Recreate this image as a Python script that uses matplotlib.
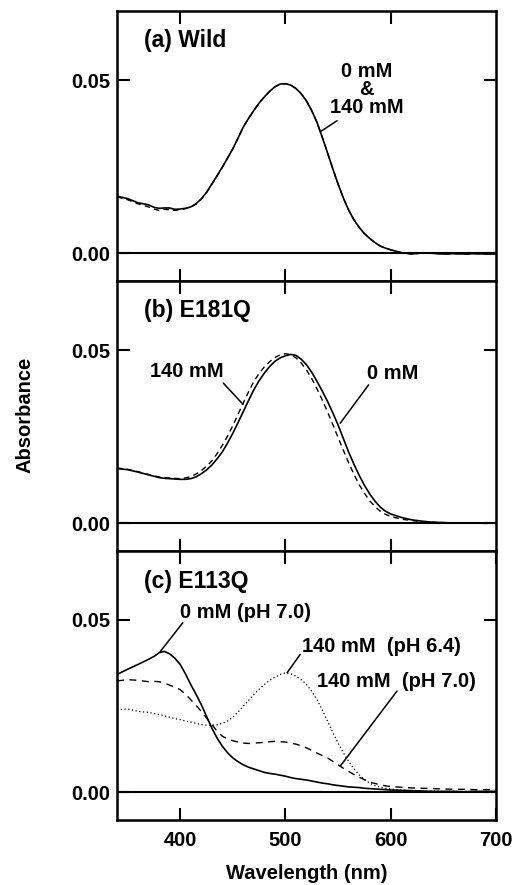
import numpy as np
import matplotlib
matplotlib.use('Agg')
import matplotlib.pyplot as plt

plt.rcParams['font.family'] = ['Liberation Sans', 'DejaVu Sans']
plt.rcParams['font.weight'] = 'bold'

# wavelength grid (nm): coarse in the flat ends, 5 nm through the bands
wl = np.array([340, 350, 360] + list(range(370, 601, 5)) + list(range(610, 701, 10)))

# (a) Wild
wild_0mM = [0.0165, 0.0158, 0.0146,
            0.0140, 0.0133, 0.0130, 0.0131, 0.0131, 0.0127, 0.0128, 0.0130, 0.0134, 0.0143, 0.0157,
            0.0176, 0.0200, 0.0224, 0.0249, 0.0275, 0.0302, 0.0333, 0.0365, 0.0390, 0.0413,
            0.0434, 0.0452, 0.0468, 0.0481, 0.0489, 0.0490, 0.0486, 0.0476, 0.0461, 0.0440,
            0.0412, 0.0378, 0.0335, 0.0290, 0.0244, 0.0200, 0.0160, 0.0125, 0.0097, 0.0075,
            0.0057, 0.0043, 0.0031, 0.0021, 0.0015, 0.0010,
            0.0002, -0.0002, 0.0001, 0.0000, -0.0002, -0.0001, -0.0002, -0.0001, -0.0002, -0.0002]
wild_140mM = [0.0163, 0.0155, 0.0143,
              0.0134, 0.0128, 0.0124, 0.0127, 0.0126, 0.0124, 0.0126, 0.0129, 0.0133, 0.0142, 0.0156,
              0.0175, 0.0199, 0.0223, 0.0248, 0.0275, 0.0302, 0.0333, 0.0365, 0.0390, 0.0413,
              0.0434, 0.0452, 0.0468, 0.0481, 0.0489, 0.0490, 0.0486, 0.0476, 0.0461, 0.0440,
              0.0412, 0.0378, 0.0335, 0.0290, 0.0244, 0.0200, 0.0160, 0.0125, 0.0097, 0.0075,
              0.0057, 0.0043, 0.0031, 0.0021, 0.0015, 0.0010,
              0.0002, -0.0002, 0.0001, 0.0000, -0.0002, -0.0001, -0.0002, -0.0001, -0.0002, -0.0002]

# (b) E181Q
e181q_0mM = [0.0158, 0.0155, 0.0148,
             0.0140, 0.0136, 0.0132, 0.0130, 0.0129, 0.0128, 0.0127, 0.0127, 0.0129, 0.0134, 0.0143,
             0.0154, 0.0168, 0.0186, 0.0206, 0.0232, 0.0260, 0.0291, 0.0323, 0.0355, 0.0386,
             0.0412, 0.0434, 0.0453, 0.0468, 0.0478, 0.0484, 0.0488, 0.0485, 0.0474, 0.0458,
             0.0436, 0.0410, 0.0382, 0.0352, 0.0319, 0.0284, 0.0245, 0.0206, 0.0171, 0.0139,
             0.0110, 0.0085, 0.0064, 0.0047, 0.0035, 0.0027,
             0.0017, 0.0010, 0.0006, 0.0003, 0.0002, 0.0001, 0.0001, 0.0001, 0.0000, 0.0001]
e181q_140mM = [0.0160, 0.0156, 0.0149,
               0.0141, 0.0137, 0.0134, 0.0132, 0.0131, 0.0130, 0.0129, 0.0131, 0.0135, 0.0142, 0.0152,
               0.0165, 0.0180, 0.0201, 0.0225, 0.0252, 0.0282, 0.0315, 0.0348, 0.0380, 0.0410,
               0.0433, 0.0452, 0.0467, 0.0479, 0.0487, 0.0490, 0.0487, 0.0478, 0.0463, 0.0443,
               0.0418, 0.0388, 0.0356, 0.0322, 0.0285, 0.0248, 0.0211, 0.0175, 0.0142, 0.0112,
               0.0087, 0.0065, 0.0049, 0.0035, 0.0026, 0.0020,
               0.0012, 0.0008, 0.0005, 0.0003, 0.0002, 0.0001, 0.0001, 0.0000, 0.0001, 0.0000]

# (c) E113Q
e113q_0mM_ph70 = [0.0342, 0.0357, 0.0371,
                  0.0386, 0.0394, 0.0405, 0.0409, 0.0402, 0.0389, 0.0371, 0.0344, 0.0313, 0.0285, 0.0255,
                  0.0221, 0.0187, 0.0158, 0.0134, 0.0115, 0.0100, 0.0089, 0.0080, 0.0073, 0.0068,
                  0.0063, 0.0058, 0.0055, 0.0053, 0.0050, 0.0047, 0.0043, 0.0040, 0.0038, 0.0036,
                  0.0033, 0.0030, 0.0027, 0.0025, 0.0022, 0.0020, 0.0018, 0.0016, 0.0015, 0.0014,
                  0.0012, 0.0011, 0.0010, 0.0009, 0.0008, 0.0007,
                  0.0006, 0.0005, 0.0004, 0.0003, 0.0003, 0.0003, 0.0002, 0.0003, 0.0003, 0.0003]
e113q_140mM_ph70 = [0.0323, 0.0327, 0.0325,
                    0.0321, 0.0322, 0.0321, 0.0317, 0.0311, 0.0305, 0.0298, 0.0285, 0.0269, 0.0253, 0.0235,
                    0.0216, 0.0197, 0.0178, 0.0163, 0.0155, 0.0150, 0.0146, 0.0143, 0.0142, 0.0143,
                    0.0144, 0.0145, 0.0147, 0.0148, 0.0147, 0.0146, 0.0143, 0.0140, 0.0135, 0.0129,
                    0.0122, 0.0114, 0.0107, 0.0100, 0.0090, 0.0080, 0.0070, 0.0061, 0.0052, 0.0044,
                    0.0037, 0.0030, 0.0026, 0.0022, 0.0019, 0.0017,
                    0.0015, 0.0013, 0.0012, 0.0011, 0.0010, 0.0009, 0.0009, 0.0008, 0.0008, 0.0009]
e113q_140mM_ph64 = [0.0240, 0.0242, 0.0235,
                    0.0232, 0.0229, 0.0226, 0.0222, 0.0218, 0.0214, 0.0211, 0.0207, 0.0204, 0.0200, 0.0197,
                    0.0195, 0.0195, 0.0196, 0.0200, 0.0207, 0.0218, 0.0233, 0.0250, 0.0267, 0.0284,
                    0.0299, 0.0313, 0.0325, 0.0334, 0.0342, 0.0347, 0.0344, 0.0337, 0.0327, 0.0313,
                    0.0293, 0.0269, 0.0239, 0.0206, 0.0174, 0.0143, 0.0115, 0.0090, 0.0069, 0.0051,
                    0.0038, 0.0027, 0.0020, 0.0015, 0.0012, 0.0010,
                    0.0007, 0.0005, 0.0004, 0.0004, 0.0003, 0.0003, 0.0002, 0.0003, 0.0002, 0.0003]

for series in (wild_0mM, wild_140mM, e181q_0mM, e181q_140mM,
               e113q_0mM_ph70, e113q_140mM_ph70, e113q_140mM_ph64):
    assert len(series) == len(wl)

FS = 14.5
PANEL_FS = 16.5
left, width = 117 / 528, (496 - 117) / 528
tops = [11, 281, 551]
bottoms = [281, 551, 820]

figure = plt.figure(figsize=(5.28, 8.85), dpi=100)
axes = []
for t, b in zip(tops, bottoms):
    ax = figure.add_axes([left, 1 - b / 885, width, (b - t) / 885])
    axes.append(ax)

for i, ax in enumerate(axes):
    ax.set_xlim(340, 700)
    ax.set_ylim(-0.008, 0.07)
    ax.axhline(0, color='k', lw=1.5)
    for s in ax.spines.values():
        s.set_linewidth(1.8)
    ax.set_yticks([0.0, 0.05])
    ax.set_yticklabels(['0.00', '0.05'])
    ax.tick_params(direction='in', length=9, width=1.5, top=True, right=True,
                   labelsize=FS, pad=5)
    if i < 2:
        ax.set_xticks([400, 500, 600])
        ax.tick_params(labelbottom=False)
    else:
        ax.set_xticks([400, 500, 600, 700])
        ax.tick_params(axis='x', pad=8)
    for lab in ax.get_xticklabels() + ax.get_yticklabels():
        lab.set_fontweight('bold')

line = dict(arrowstyle='-', lw=1.1, shrinkA=0, shrinkB=0)

ax = axes[0]
ax.plot(wl, wild_0mM, color='k', lw=1.2)
ax.plot(wl, wild_140mM, color='k', lw=1.0, ls=(0, (4, 3)))
ax.text(366, 0.0616, '(a) Wild', fontsize=PANEL_FS, va='center', ha='left')
ax.text(577, 0.0473, '0 mM\n&\n140 mM', fontsize=FS, ha='center', va='center',
        linespacing=0.95)
ax.annotate('', xy=(533, 0.0351), xytext=(549, 0.0383), arrowprops=line)

ax = axes[1]
ax.plot(wl, e181q_0mM, color='k', lw=1.2)
ax.plot(wl, e181q_140mM, color='k', lw=1.0, ls=(0, (4, 3)))
ax.text(366, 0.0616, '(b) E181Q', fontsize=PANEL_FS, va='center', ha='left')
ax.text(406, 0.0439, '140 mM', fontsize=FS, ha='center', va='center')
ax.annotate('', xy=(459.6, 0.0344), xytext=(441, 0.0405), arrowprops=line)
ax.text(602, 0.0434, '0 mM', fontsize=FS, ha='center', va='center')
ax.annotate('', xy=(552, 0.0289), xytext=(579, 0.040), arrowprops=line)

ax = axes[2]
ax.plot(wl, e113q_0mM_ph70, color='k', lw=1.2)
ax.plot(wl, e113q_140mM_ph70, color='k', lw=1.0, ls=(0, (5, 4)))
ax.plot(wl, e113q_140mM_ph64, color='k', lw=0.9, ls=(0, (1, 2)))
ax.text(366, 0.0613, '(c) E113Q', fontsize=PANEL_FS, va='center', ha='left')
ax.text(400, 0.0521, '0 mM (pH 7.0)', fontsize=FS, ha='left', va='center')
ax.annotate('', xy=(381, 0.0408), xytext=(402.5, 0.0492), arrowprops=line)
ax.text(516, 0.0424, '140 mM  (pH 6.4)', fontsize=FS, ha='left', va='center')
ax.annotate('', xy=(501.6, 0.0347), xytext=(514, 0.040), arrowprops=line)
ax.text(530, 0.0321, '140 mM  (pH 7.0)', fontsize=FS, ha='left', va='center')
ax.annotate('', xy=(552, 0.0076), xytext=(606, 0.0294), arrowprops=line)
ax.set_xlabel('Wavelength (nm)', fontsize=FS, fontweight='bold', labelpad=10)

figure.text(25 / 528, 1 - 415 / 885, 'Absorbance', rotation=90, fontsize=FS,
            fontweight='bold', ha='center', va='center')

figure.savefig('out.png', dpi=100)
